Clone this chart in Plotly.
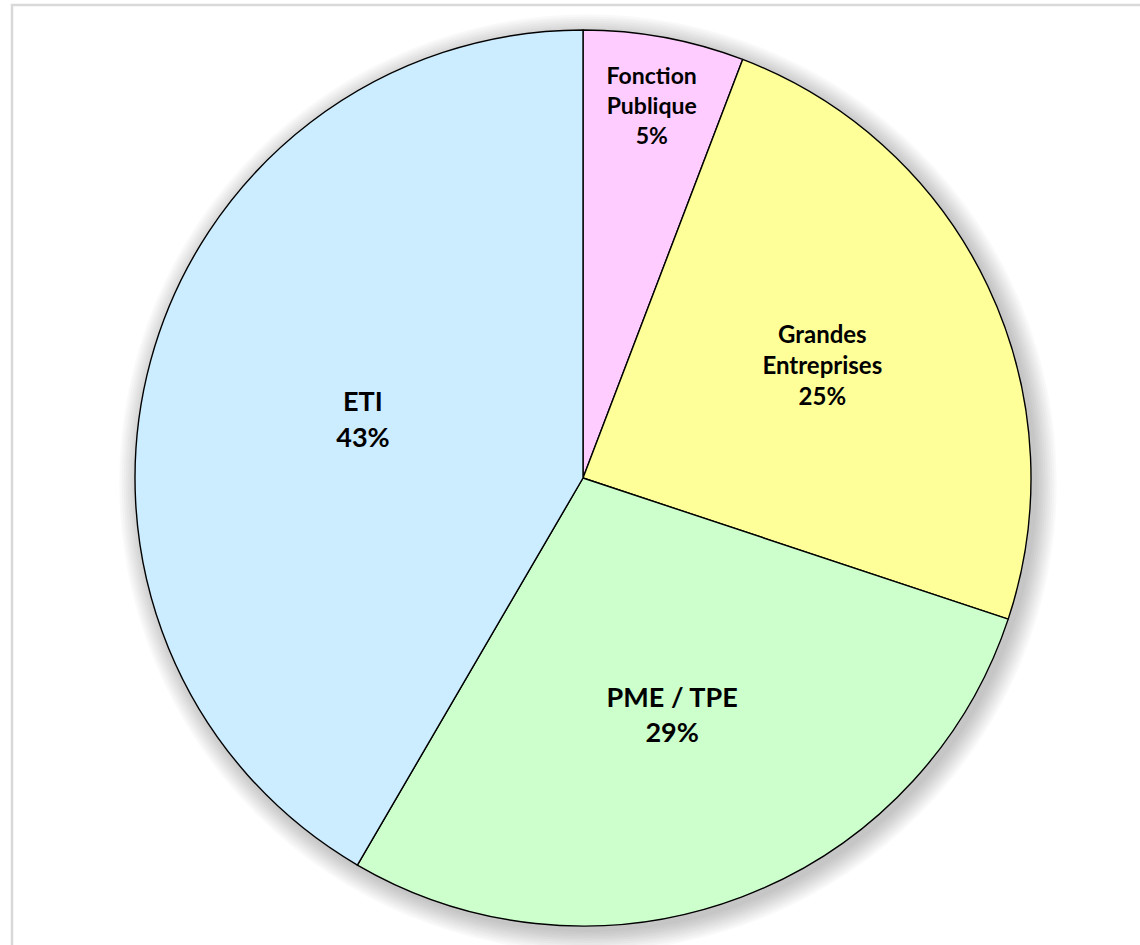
import plotly.graph_objects as go

# data
categories = ["Fonction<br>Publique", "Grandes<br>Entreprises", "PME / TPE", "ETI"]
shares = [5.8, 24.3, 28.3, 41.6]
pct_labels = ["5%", "25%", "29%", "43%"]
colors = ["#FFCCFF", "#FFFF99", "#CCFFCC", "#CCECFF"]
font_sizes = [23, 24, 27, 27]

W, H = 1140, 945
cx, cy, R = 583, 478, 448  # pie centre / radius in px

fig = go.Figure()
fig.add_trace(go.Pie(
    labels=categories,
    values=shares,
    text=pct_labels,
    texttemplate="<b>%{label}<br>%{text}</b>",
    textposition="inside",
    insidetextorientation="horizontal",
    insidetextfont=dict(family="Lato, Open Sans, sans-serif", size=font_sizes, color="#000000"),
    marker=dict(colors=colors, line=dict(color="#000000", width=1.4)),
    sort=False,
    direction="clockwise",
    rotation=0,
    hoverinfo="label+text",
    showlegend=False,
    domain=dict(x=[(cx - R) / W, (cx + R) / W], y=[(H - cy - R) / H, (H - cy + R) / H]),
))

shapes = []
# soft drop shadow behind the pie
for i in range(10):
    r = R + 1 + i * 2.2
    ox, oy = cx + 5, cy + 5
    shapes.append(dict(
        type="circle", xref="paper", yref="paper", layer="below",
        x0=(ox - r) / W, x1=(ox + r) / W,
        y0=(H - oy - r) / H, y1=(H - oy + r) / H,
        fillcolor="rgba(0,0,0,0.025)", line=dict(width=0),
    ))
# chart area frame
shapes.append(dict(
    type="rect", xref="paper", yref="paper", layer="below",
    x0=12 / W, x1=1.2, y0=-0.2, y1=(H - 5) / H,
    line=dict(color="#D9D9D9", width=2.5), fillcolor="rgba(0,0,0,0)",
))

fig.update_layout(
    width=W, height=H,
    margin=dict(l=0, r=0, t=0, b=0),
    paper_bgcolor="#FFFFFF",
    plot_bgcolor="#FFFFFF",
    shapes=shapes,
)

fig.write_html("out.html", config={"displayModeBar": False},
               post_script="document.body.style.margin='0px';")
